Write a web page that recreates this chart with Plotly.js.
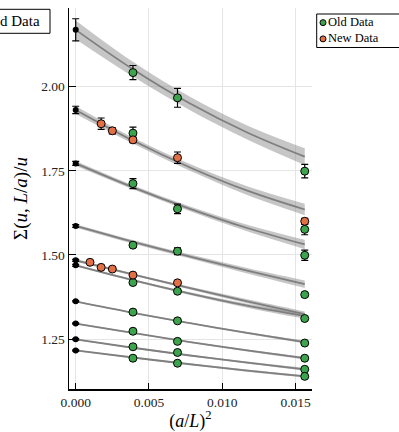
<!DOCTYPE html>
<html><head><meta charset="utf-8">
<script src="https://cdn.plot.ly/plotly-3.0.1.min.js"></script>
<style>html,body{margin:0;padding:0;background:#fff;} #chart{width:399px;height:432px;}</style>
</head><body><div id="chart"></div>
<script>
// x positions (a/L)^2
const xOld = [0.00390625, 0.00694444, 0.015625];
const xNew = [0.00097656, 0.00173611, 0.0025, 0.00390625, 0.00694444, 0.015625];
const xFit = [0, 0.0039, 0.0078, 0.0117, 0.015625];

// Old data (green), one array per line, top to bottom
const old1 = [2.042, 1.967, 1.749];  const oldErr1 = [0.021, 0.028, 0.020];
const old2 = [1.862, null, 1.576];   const oldErr2 = [0.018, null, 0.016];
const old3 = [1.712, 1.637, 1.499];  const oldErr3 = [0.015, 0.014, 0.015];
const old4 = [1.529, 1.511, 1.382];  const oldErr4 = [0.006, 0.010, 0.006];
const old6 = [1.418, 1.392, 1.311];  const oldErr6 = [0.003, 0.003, 0.003];
const old7 = [1.330, 1.304, 1.238];  const oldErr7 = [0.002, 0.002, 0.002];
const old8 = [1.273, 1.243, 1.193];  const oldErr8 = [0.002, 0.002, 0.002];
const old9 = [1.227, 1.210, 1.160];  const oldErr9 = [0.002, 0.002, 0.002];
const old10 = [1.193, 1.178, 1.139]; const oldErr10 = [0.002, 0.002, 0.002];

// New data (orange)
const new2 = [null, 1.890, 1.869, 1.842, 1.789, 1.600];
const newErr2 = [null, 0.017, 0.009, 0.008, 0.017, 0.009];
const new5 = [1.478, 1.463, 1.458, 1.440, 1.417, null];
const newErr5 = [0.003, 0.003, 0.003, 0.003, 0.003, null];

// Continuum values at (a/L)^2 = 0 (black)
const contVals = [2.169, 1.931, 1.772, 1.586, 1.484, 1.469, 1.362, 1.296, 1.249, 1.216];
const contErr  = [0.033, 0.011, 0.006, 0.004, 0.003, 0.003, 0.002, 0.002, 0.002, 0.002];

// Fit curves and band half-widths, read at xFit
const fit1 = [2.169, 2.052, 1.950, 1.864, 1.792];  const band1 = [0.028, 0.022, 0.020, 0.021, 0.025];
const fit2 = [1.931, 1.840, 1.760, 1.691, 1.635];  const band2 = [0.012, 0.009, 0.010, 0.013, 0.017];
const fit3 = [1.772, 1.701, 1.637, 1.580, 1.531];  const band3 = [0.007, 0.006, 0.007, 0.010, 0.014];
const fit4 = [1.586, 1.539, 1.495, 1.453, 1.413];  const band4 = [0.005, 0.005, 0.006, 0.008, 0.011];
const fit5 = [1.484, 1.442, 1.401, 1.362, 1.324];  const band5 = [0.004, 0.003, 0.004, 0.006, 0.008];
const fit6 = [1.469, 1.425, 1.385, 1.349, 1.318];  const band6 = [0.003, 0.003, 0.004, 0.006, 0.008];
const fit7 = [1.362, 1.328, 1.297, 1.268, 1.241];  const band7 = [0.002, 0.002, 0.002, 0.003, 0.004];
const fit8 = [1.296, 1.268, 1.241, 1.216, 1.193];  const band8 = [0.002, 0.002, 0.002, 0.003, 0.004];
const fit9 = [1.249, 1.224, 1.201, 1.180, 1.160];  const band9 = [0.002, 0.002, 0.002, 0.003, 0.004];
const fit10 = [1.216, 1.195, 1.175, 1.156, 1.139]; const band10 = [0.002, 0.002, 0.002, 0.003, 0.003];

const xTicks = [0, 0.005, 0.010, 0.015];
const xTickText = ['0.000', '0.005', '0.010', '0.015'];
const yTicks = [1.25, 1.50, 1.75, 2.00];
const yTickText = ['1.25', '1.50', '1.75', '2.00'];
const legendLabels = ['Old Data', 'New Data'];

const GREEN = '#3da44d', ORANGE = '#e26f46';
const FONT = 'Liberation Serif';

const fits = [fit1, fit2, fit3, fit4, fit5, fit6, fit7, fit8, fit9, fit10];
const bands = [band1, band2, band3, band4, band5, band6, band7, band8, band9, band10];

const traces = [];
fits.forEach((f, i) => {
  const b = bands[i];
  traces.push({x: xFit, y: f.map((v, k) => v + b[k]), mode: 'lines', line: {width: 0, shape: 'spline'},
    showlegend: false, hoverinfo: 'skip'});
  traces.push({x: xFit, y: f.map((v, k) => v - b[k]), mode: 'lines', line: {width: 0, shape: 'spline'},
    fill: 'tonexty', fillcolor: 'rgba(128,128,128,0.45)', showlegend: false, hoverinfo: 'skip'});
});
fits.forEach(f => {
  traces.push({x: xFit, y: f, mode: 'lines', line: {color: '#7f7f7f', width: 1.8, shape: 'spline'},
    showlegend: false, hoverinfo: 'skip'});
});

const olds = [[old1, oldErr1], [old2, oldErr2], [old3, oldErr3], [old4, oldErr4], [old6, oldErr6],
              [old7, oldErr7], [old8, oldErr8], [old9, oldErr9], [old10, oldErr10]];
olds.forEach(([v, e]) => {
  traces.push({x: xOld, y: v, mode: 'markers', name: legendLabels[0], showlegend: false,
    marker: {color: GREEN, size: 8, line: {color: 'black', width: 1}},
    error_y: {type: 'data', array: e, color: 'black', thickness: 1.2, width: 3.5}});
});
[[new2, newErr2], [new5, newErr5]].forEach(([v, e]) => {
  traces.push({x: xNew, y: v, mode: 'markers', name: legendLabels[1], showlegend: false,
    marker: {color: ORANGE, size: 8, line: {color: 'black', width: 1}},
    error_y: {type: 'data', array: e, color: 'black', thickness: 1.2, width: 3.5}});
});
traces.push({x: contVals.map(() => 0), y: contVals, mode: 'markers', showlegend: false,
  marker: {color: 'black', size: 6},
  error_y: {type: 'data', array: contErr, color: 'black', thickness: 1.2, width: 3.5}});

// pixel -> paper helpers for legend decoration
const L = 69, R = 312, T = 8, B = 389;
const px = v => (v - L) / (R - L);
const py = v => (B - v) / (B - T);
const LEG_FS = 12.5, LEG_TOP = 14.5, LINE_H = LEG_FS * 1.3;

const layout = {
  width: 399, height: 432,
  margin: {l: L, r: 399 - R, t: T, b: 432 - B},
  paper_bgcolor: 'white', plot_bgcolor: 'white',
  showlegend: false,
  font: {family: FONT, color: 'black'},
  xaxis: {
    range: [-0.000457, 0.01612], tickvals: xTicks, ticktext: xTickText,
    showgrid: true, gridcolor: '#e5e5e5', gridwidth: 1, zeroline: false,
    showline: true, linecolor: 'black', linewidth: 1.5, mirror: false,
    ticks: 'inside', ticklen: 6, tickcolor: 'black', tickwidth: 1,
    tickfont: {family: FONT, size: 13.5, color: '#222'},
    title: {text: '(<i>a</i>/<i>L</i>)<sup>2</sup>', font: {family: FONT, size: 18}, standoff: 8}
  },
  yaxis: {
    range: [1.1014, 2.234], tickvals: yTicks, ticktext: yTickText,
    showgrid: true, gridcolor: '#e5e5e5', gridwidth: 1, zeroline: false,
    showline: true, linecolor: 'black', linewidth: 1.5, mirror: false,
    ticks: 'inside', ticklen: 7, tickcolor: 'black', tickwidth: 1,
    tickfont: {family: FONT, size: 13.5, color: '#222'},
    title: {text: 'Σ(<i>u</i>, <i>L</i>/<i>a</i>)/<i>u</i>', font: {family: FONT, size: 19}, standoff: 8}
  },
  shapes: [
    {type: 'rect', xref: 'paper', yref: 'paper', x0: px(316.7), x1: px(402),
     y0: py(LEG_TOP + 2 * LINE_H + 0.5), y1: py(LEG_TOP - 0.5),
     line: {color: 'black', width: 1}, fillcolor: 'white', layer: 'above'},
    {type: 'circle', xref: 'paper', yref: 'paper', xsizemode: 'pixel', ysizemode: 'pixel',
     xanchor: px(323), yanchor: py(LEG_TOP + LINE_H * 0.5), x0: -3, x1: 3, y0: -3, y1: 3,
     fillcolor: GREEN, line: {color: 'black', width: 1}, layer: 'above'},
    {type: 'circle', xref: 'paper', yref: 'paper', xsizemode: 'pixel', ysizemode: 'pixel',
     xanchor: px(323), yanchor: py(LEG_TOP + LINE_H * 1.5), x0: -3, x1: 3, y0: -3, y1: 3,
     fillcolor: ORANGE, line: {color: 'black', width: 1}, layer: 'above'},
    {type: 'rect', xref: 'paper', yref: 'paper', x0: px(-25), x1: px(50), y0: py(33.3), y1: py(9.3),
     line: {color: 'black', width: 1}, fillcolor: 'white', layer: 'above'}
  ],
  annotations: [
    {xref: 'paper', yref: 'paper', x: px(328), y: py(LEG_TOP), xanchor: 'left', yanchor: 'top',
     align: 'left', text: legendLabels.join('<br>'), showarrow: false, borderpad: 0, borderwidth: 0,
     font: {family: FONT, size: LEG_FS, color: 'black'}},
    {xref: 'paper', yref: 'paper', x: px(42), y: py(21.3), xanchor: 'right', yanchor: 'middle',
     text: legendLabels[0], showarrow: false, font: {family: FONT, size: 15, color: 'black'}}
  ]
};

Plotly.newPlot('chart', traces, layout, {staticPlot: true, displayModeBar: false});
</script>
</body></html>
